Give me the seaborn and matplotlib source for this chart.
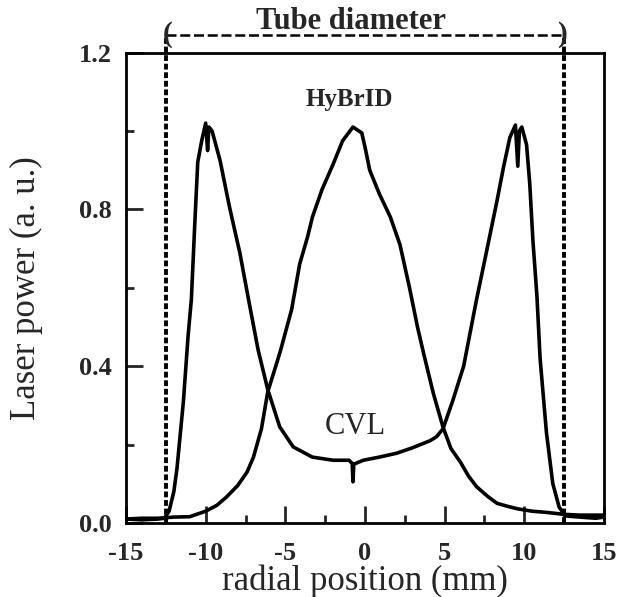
import matplotlib
matplotlib.use("Agg")
import matplotlib.pyplot as plt
import seaborn as sns
from matplotlib.ticker import MultipleLocator, FormatStrFormatter

# values (radial position in mm, power in a.u.)
hybrid_x = [-15, -14, -13, -12, -11, -10, -9.3, -8.7, -8.0, -7.4, -7.0, -6.5,
            -6.1, -5.6, -5.3, -4.9, -4.6, -4.1, -3.6, -3.3, -2.7, -2.0, -1.4,
            -0.75, -0.2, 0.0, 0.3, 0.9, 1.6, 2.2, 2.8, 3.3, 3.7, 4.3, 4.9, 5.4,
            6.0, 6.5, 7.0, 7.7, 8.3, 9.0, 9.6, 10.5, 11.4, 12.5, 13.5, 14.6, 15]
hybrid_y = [0.010, 0.012, 0.012, 0.015, 0.016, 0.030, 0.045, 0.066, 0.095,
            0.130, 0.168, 0.240, 0.335, 0.400, 0.440, 0.500, 0.545, 0.660,
            0.730, 0.780, 0.850, 0.915, 0.975, 1.010, 0.995, 0.960, 0.900,
            0.840, 0.780, 0.710, 0.600, 0.500, 0.430, 0.330, 0.245, 0.190,
            0.155, 0.120, 0.093, 0.068, 0.050, 0.042, 0.036, 0.030, 0.027,
            0.022, 0.020, 0.020, 0.020]

cvl_x = [-15, -14, -13, -12.6, -12.3, -12.0, -11.8, -11.4, -11.1, -10.9, -10.7,
         -10.5, -10.25, -10.0, -9.88, -9.8, -9.6, -9.1, -8.5, -7.85, -7.3, -6.7,
         -6.1, -5.35, -4.5, -3.3, -2.0, -1.0, -0.8, -0.75, -0.7, -0.1, 0.9, 2.0,
         3.0, 4.1, 4.5, 4.9, 5.5, 6.2, 7.0, 7.65, 8.3, 8.7, 9.1, 9.45, 9.6, 9.7,
         9.85, 10.15, 10.35, 10.55, 10.8, 11.0, 11.4, 11.8, 12.2, 12.6, 13.5,
         14.5, 15]
cvl_y = [0.010, 0.008, 0.010, 0.012, 0.030, 0.080, 0.140, 0.310, 0.480, 0.570,
         0.750, 0.920, 0.975, 1.020, 0.950, 1.010, 1.000, 0.925, 0.805, 0.688,
         0.568, 0.440, 0.340, 0.245, 0.194, 0.168, 0.160, 0.160, 0.152, 0.105,
         0.150, 0.160, 0.168, 0.178, 0.192, 0.210, 0.220, 0.240, 0.310, 0.400,
         0.568, 0.695, 0.823, 0.907, 0.983, 1.015, 0.910, 1.000, 1.010, 0.965,
         0.866, 0.720, 0.580, 0.420, 0.230, 0.100, 0.040, 0.018, 0.015, 0.012,
         0.015]

tube_edges = [-12.5, 12.5]

sns.set_theme(style="ticks")
plt.rcParams["font.family"] = ["Liberation Serif", "DejaVu Serif"]
plt.rcParams["axes.unicode_minus"] = False

fig = plt.figure(figsize=(6.18, 5.97), dpi=100)
ax = fig.add_axes([0.204, 0.124, 0.773, 0.788])

sns.lineplot(x=hybrid_x, y=hybrid_y, ax=ax, color="black", lw=2.6,
             estimator=None, sort=False)
sns.lineplot(x=cvl_x, y=cvl_y, ax=ax, color="black", lw=2.6,
             estimator=None, sort=False)

# tube walls + "Tube diameter" marker above the frame
for xe in tube_edges:
    ax.plot([xe, xe], [0.0, 1.245], color="black", lw=2.8,
            ls=(0, (1.5, 0.7)), clip_on=False)
ax.plot(tube_edges, [1.245, 1.245], color="black", lw=1.8,
        ls=(0, (4, 1.5)), clip_on=False)
ax.text(tube_edges[0] + 0.1, 1.247, "(", ha="center", va="center",
        fontsize=21, fontweight="bold", clip_on=False)
ax.text(tube_edges[1] - 0.1, 1.247, ")", ha="center", va="center",
        fontsize=21, fontweight="bold", clip_on=False)
ax.text(-0.9, 1.26, "Tube diameter", ha="center", va="baseline",
        fontsize=22, fontweight="bold")

ax.text(-1.0, 1.08, "HyBrID", ha="center", va="center",
        fontsize=18, fontweight="bold")
ax.text(-0.6, 0.245, "CVL", ha="center", va="center", fontsize=22)

ax.set_xlim(-15, 15)
ax.set_ylim(0, 1.2)
ax.xaxis.set_major_locator(MultipleLocator(5))
ax.xaxis.set_minor_locator(MultipleLocator(2.5))
ax.yaxis.set_major_locator(MultipleLocator(0.4))
ax.yaxis.set_minor_locator(MultipleLocator(0.2))
ax.yaxis.set_major_formatter(FormatStrFormatter("%.1f"))

ax.tick_params(which="both", direction="in", top=False, right=False,
               width=2, labelsize=19)
ax.tick_params(which="major", length=12)
ax.tick_params(axis="y", which="major", pad=10)
ax.tick_params(axis="x", which="major", pad=14)
ax.tick_params(which="minor", length=6)
for lab in ax.get_xticklabels() + ax.get_yticklabels():
    lab.set_fontweight("bold")

for sp in ax.spines.values():
    sp.set_linewidth(2)
    sp.set_color("black")

ax.set_xlabel("radial position (mm)", fontsize=25, labelpad=-1)
ax.set_ylabel("Laser power (a. u.)", fontsize=25, labelpad=26)

fig.savefig("out.png", dpi=100)
